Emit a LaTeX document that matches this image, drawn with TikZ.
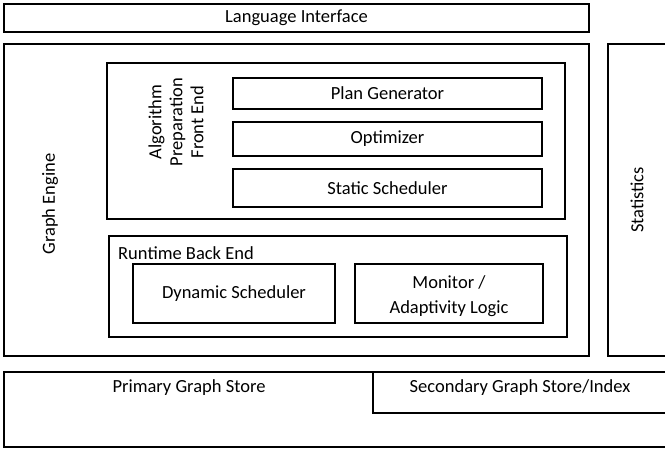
\documentclass[tikz,border=0pt]{standalone}
\usepackage{fontspec}
\setmainfont{Carlito}
\begin{document}
\begin{tikzpicture}[x=1pt,y=-1pt,
  box/.style={draw=black,line width=1.6pt,inner sep=0pt,align=center},
  thickbox/.style={draw=black,line width=2pt,inner sep=0pt,align=center},
  lbl/.style={inner sep=0pt,align=center},
  every node/.append style={font=\fontsize{18.5}{22}\selectfont}]
\useasboundingbox (0,0) rectangle (665,451);
\clip (0,0) rectangle (665,451);
\fill[white] (0,0) rectangle (665,451);
% top
\node[thickbox,minimum width=585pt,minimum height=28pt] (lang) at (296.5,18) {Language Interface};
% graph engine
\node[thickbox,minimum width=585pt,minimum height=312pt] (engine) at (296.5,200) {};
\node[lbl,rotate=90] (enginel) at (50,204) {Graph Engine};
% statistics
\node[thickbox,minimum width=72pt,minimum height=312pt] (stats) at (644,200) {};
\node[lbl,rotate=90] (statsl) at (637,200) {Statistics};
% front end
\node[box,minimum width=458pt,minimum height=156pt] (front) at (336,141) {};
\node[lbl,rotate=90,font=\fontsize{18.5}{21}\selectfont] (frontl) at (176,122) {Algorithm\\Preparation\\Front End};
\node[box,minimum width=309pt,minimum height=31pt] (plan) at (387.5,93.5) {Plan Generator};
\node[box,minimum width=309pt,minimum height=34pt] (opt) at (387.5,139) {Optimizer};
\node[box,minimum width=309pt,minimum height=38pt] (sched) at (387.5,188) {Static Scheduler};
% back end
\node[box,minimum width=458pt,minimum height=101pt] (back) at (338,286.5) {};
\node[lbl,anchor=west] (backl) at (118,253) {Runtime Back End};
\node[box,minimum width=202pt,minimum height=59pt] (dyn) at (234,293.5) {Dynamic Scheduler};
\node[box,minimum width=188pt,minimum height=59pt] (mon) at (449,293.5) {};
\node[lbl,font=\fontsize{18.5}{25}\selectfont] (monl) at (449,296.5) {Monitor /\\Adaptivity Logic};
% stores
\node[thickbox,minimum width=676pt,minimum height=75pt] (primary) at (342,409.5) {};
\node[lbl] (primaryl) at (189,388) {Primary Graph Store};
\node[box,minimum width=307pt,minimum height=41pt] (secondary) at (526.5,392.5) {};
\node[lbl] (secondaryl) at (520,388) {Secondary Graph Store/Index};
\end{tikzpicture}
\end{document}
